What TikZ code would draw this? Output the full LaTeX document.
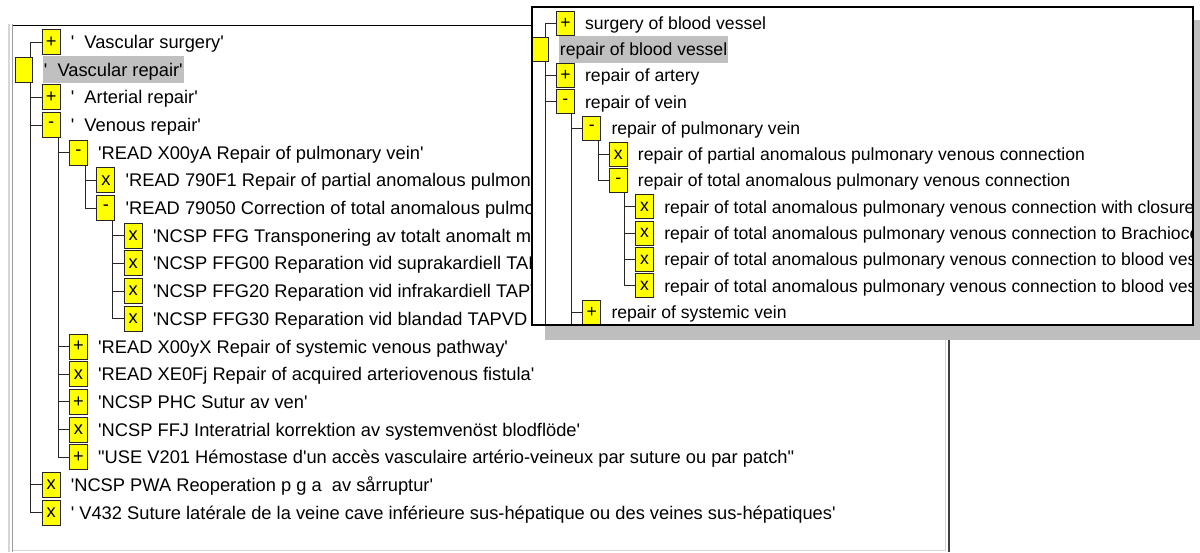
\documentclass[tikz,border=0pt]{standalone}
\usepackage{fontspec}
\setmainfont{Liberation Sans}
\usetikzlibrary{positioning,calc}
\definecolor{hilite}{HTML}{C0C0C0}
\definecolor{shadowgray}{HTML}{BEBEBE}
\definecolor{framelight}{HTML}{D6D6D6}
\definecolor{framemid}{HTML}{9C9C9C}
\definecolor{framedark}{HTML}{404040}
\definecolor{togglefill}{HTML}{FFFF00}
\newcommand{\leftfont}{\fontsize{18.3pt}{21pt}\selectfont}
\newcommand{\popfont}{\fontsize{17.6pt}{20pt}\selectfont}
\newcommand{\apq}{\textquotesingle}
\tikzset{
  treeline/.style  = {draw=black!85, line width=1pt},
  togglebox/.style = {draw=black!85, line width=1pt, fill=togglefill,
                      inner sep=0pt, minimum width=18pt, minimum height=25pt,
                      font=\leftfont},
  poptoggle/.style = {togglebox, minimum height=24pt, font=\popfont},
  ltext/.style     = {anchor=west, inner sep=0pt, text height=13pt,
                      text depth=0pt, font=\leftfont},
  ptext/.style     = {ltext, text height=12.6pt, font=\popfont},
  focus/.style     = {fill=hilite, inner xsep=1.2pt, inner ysep=7pt},
}

\begin{document}
\begin{tikzpicture}[x=1pt,y=-1pt]
\useasboundingbox (0,0) rectangle (1200,552);
\fill[white] (0,0) rectangle (1200,552);
% sunken frame of the hierarchy pane
\draw[framelight, line width=1.2pt] (9,24) -- (9,552);
\draw[framemid, line width=1.2pt] (12.3,24) -- (12.3,552);
\draw[black, line width=1.5pt] (13,25.5) -- (950,25.5);
\draw[framelight, line width=1.2pt] (13,550.5) -- (946,550.5);
\draw[framelight, line width=1.2pt] (945.5,26) -- (945.5,550);
\draw[framedark, line width=1.5pt] (948.8,25) -- (948.8,552);

% hierarchy pane: toggle boxes
\node[togglebox] (vsurg) at (51.1,42) {+};
\node[togglebox, minimum width=17pt] (vrep) at (23.5,69.7) {};
\node[togglebox] (artrep) at (51.1,97.4) {+};
\node[togglebox] (venrep) at (51.1,125) {-};
\node[togglebox] (x00ya) at (78.5,152.7) {-};
\node[togglebox] (r790f1) at (105.9,180.4) {x};
\node[togglebox] (r79050) at (105.9,208.1) {-};
\node[togglebox] (ffg) at (133.3,235.8) {x};
\node[togglebox] (ffg00) at (133.3,263.4) {x};
\node[togglebox] (ffg20) at (133.3,291.1) {x};
\node[togglebox] (ffg30) at (133.3,318.8) {x};
\node[togglebox] (x00yx) at (78.5,346.5) {+};
\node[togglebox] (xe0fj) at (78.5,374.2) {x};
\node[togglebox] (phc) at (78.5,401.8) {+};
\node[togglebox] (ffj) at (78.5,429.5) {x};
\node[togglebox] (v201) at (78.5,457.2) {+};
\node[togglebox] (pwa) at (51.1,484.9) {x};
\node[togglebox] (v432) at (51.1,512.6) {x};

% hierarchy pane: labels
\node[ltext, right=10pt of vsurg] (vsurg-t) {\apq\ \ Vascular surgery\apq};
\node[ltext, focus, right=10pt of vrep] (vrep-t) {\apq\ \ Vascular repair\apq};
\node[ltext, right=10pt of artrep] (artrep-t) {\apq\ \ Arterial repair\apq};
\node[ltext, right=10pt of venrep] (venrep-t) {\apq\ \ Venous repair\apq};
\node[ltext, right=10pt of x00ya] (x00ya-t) {\apq READ X00yA Repair of pulmonary vein\apq};
\node[ltext, right=10pt of r790f1] (r790f1-t) {\apq READ 790F1 Repair of partial anomalous pulmonary};
\node[ltext, right=10pt of r79050] (r79050-t) {\apq READ 79050 Correction of total anomalous pulmonary};
\node[ltext, right=10pt of ffg] (ffg-t) {\apq NCSP FFG Transponering av totalt anomalt myn};
\node[ltext, right=10pt of ffg00] (ffg00-t) {\apq NCSP FFG00 Reparation vid suprakardiell TAPVD};
\node[ltext, right=10pt of ffg20] (ffg20-t) {\apq NCSP FFG20 Reparation vid infrakardiell TAPVD};
\node[ltext, right=10pt of ffg30] (ffg30-t) {\apq NCSP FFG30 Reparation vid blandad TAPVD};
\node[ltext, right=10pt of x00yx] (x00yx-t) {\apq READ X00yX Repair of systemic venous pathway\apq};
\node[ltext, right=10pt of xe0fj] (xe0fj-t) {\apq READ XE0Fj Repair of acquired arteriovenous fistula\apq};
\node[ltext, right=10pt of phc] (phc-t) {\apq NCSP PHC Sutur av ven\apq};
\node[ltext, right=10pt of ffj] (ffj-t) {\apq NCSP FFJ Interatrial korrektion av systemvenöst blodflöde\apq};
\node[ltext, right=10pt of v201] (v201-t) {\textquotedbl USE V201 Hémostase d\apq un accès vasculaire artério-veineux par suture ou par patch\textquotedbl};
\node[ltext, right=10pt of pwa] (pwa-t) {\apq NCSP PWA Reoperation p g a\ \ av sårruptur\apq};
\node[ltext, right=10pt of v432] (v432-t) {\apq\ V432 Suture latérale de la veine cave inférieure sus-hépatique ou des veines sus-hépatiques\apq};

% hierarchy pane: tree lines
\coordinate (t0) at ([xshift=-2.5pt]vrep.east);
\draw[treeline] (vsurg.west) -| ([xshift=-2.5pt]vrep.north east);
\draw[treeline] (vrep.south -| t0) |- (v432.west);
\foreach \n in {artrep,venrep,pwa}
  \draw[treeline] (\n.west) -- (\n.west -| t0);
\coordinate (t1) at ([xshift=-2.5pt]venrep.east);
\draw[treeline] (venrep.south -| t1) |- (v201.west);
\foreach \n in {x00ya,x00yx,xe0fj,phc,ffj}
  \draw[treeline] (\n.west) -- (\n.west -| t1);
\coordinate (t2) at ([xshift=-2.5pt]x00ya.east);
\draw[treeline] (x00ya.south -| t2) |- (r79050.west);
\draw[treeline] (r790f1.west) -- (r790f1.west -| t2);
\coordinate (t3) at ([xshift=-2.5pt]r79050.east);
\draw[treeline] (r79050.south -| t3) |- (ffg30.west);
\foreach \n in {ffg,ffg00,ffg20}
  \draw[treeline] (\n.west) -- (\n.west -| t3);

% popup with the mapped concepts, drop shadow first
\fill[shadowgray] (545,20) rectangle (1210,340);
\fill[white] (532,7) rectangle (1193,325);
\begin{scope}
\clip (532,7) rectangle (1193,325);
\node[poptoggle] (sbv) at (565.4,23) {+};
\node[poptoggle] (rbv) at (539,49.3) {};
\node[poptoggle] (rart) at (565.4,75.5) {+};
\node[poptoggle] (rvein) at (565.4,101.8) {-};
\node[poptoggle] (rpv) at (591.8,128.1) {-};
\node[poptoggle] (rpartial) at (618.2,154.4) {x};
\node[poptoggle] (rtotal) at (618.2,180.6) {-};
\node[poptoggle] (rclos) at (644.6,206.9) {x};
\node[poptoggle] (rbrach) at (644.6,233.2) {x};
\node[poptoggle] (rves1) at (644.6,259.4) {x};
\node[poptoggle] (rves2) at (644.6,285.7) {x};
\node[poptoggle] (rsys) at (591.8,312) {+};

\node[ptext, right=10pt of sbv] (sbv-t) {surgery of blood vessel};
\node[ptext, focus, right=10pt of rbv] (rbv-t) {repair of blood vessel};
\node[ptext, right=10pt of rart] (rart-t) {repair of artery};
\node[ptext, right=10pt of rvein] (rvein-t) {repair of vein};
\node[ptext, right=10pt of rpv] (rpv-t) {repair of pulmonary vein};
\node[ptext, right=10pt of rpartial] (rpartial-t) {repair of partial anomalous pulmonary venous connection};
\node[ptext, right=10pt of rtotal] (rtotal-t) {repair of total anomalous pulmonary venous connection};
\node[ptext, right=10pt of rclos] (rclos-t) {repair of total anomalous pulmonary venous connection with closure};
\node[ptext, right=10pt of rbrach] (rbrach-t) {repair of total anomalous pulmonary venous connection to Brachiocephalic};
\node[ptext, right=10pt of rves1] (rves1-t) {repair of total anomalous pulmonary venous connection to blood vessel};
\node[ptext, right=10pt of rves2] (rves2-t) {repair of total anomalous pulmonary venous connection to blood vessel};
\node[ptext, right=10pt of rsys] (rsys-t) {repair of systemic vein};

\coordinate (popbot) at (600,330);
\coordinate (p0) at ([xshift=-3pt]rbv.east);
\draw[treeline] (sbv.west) -| ([xshift=-3pt]rbv.north east);
\draw[treeline] (rbv.south -| p0) -- (popbot -| p0);
\foreach \n in {rart,rvein}
  \draw[treeline] (\n.west) -- (\n.west -| p0);
\coordinate (p1) at ([xshift=-3pt]rvein.east);
\draw[treeline] (rvein.south -| p1) -- (popbot -| p1);
\foreach \n in {rpv,rsys}
  \draw[treeline] (\n.west) -- (\n.west -| p1);
\coordinate (p2) at ([xshift=-3pt]rpv.east);
\draw[treeline] (rpv.south -| p2) |- (rtotal.west);
\draw[treeline] (rpartial.west) -- (rpartial.west -| p2);
\coordinate (p3) at ([xshift=-3pt]rtotal.east);
\draw[treeline] (rtotal.south -| p3) |- (rves2.west);
\foreach \n in {rclos,rbrach,rves1}
  \draw[treeline] (\n.west) -- (\n.west -| p3);
\end{scope}
\draw[black, line width=1.5pt] (532,7) rectangle (1193,325);
\end{tikzpicture}
\end{document}
